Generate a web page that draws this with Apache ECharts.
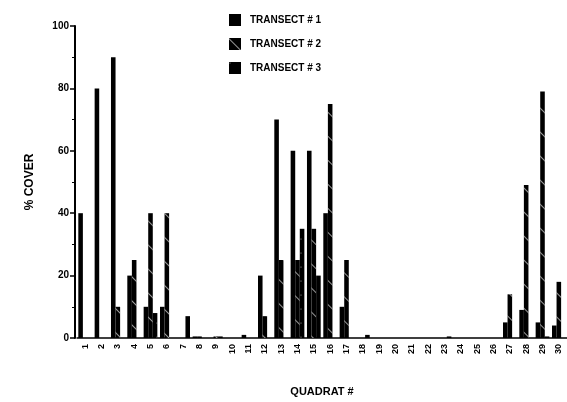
<!DOCTYPE html>
<html>
<head>
<meta charset="utf-8">
<script src="https://cdn.jsdelivr.net/npm/echarts@6/dist/echarts.min.js"></script>
<style>
  html, body { margin: 0; padding: 0; background: #fff; }
  #main { width: 567px; height: 402px; }
</style>
</head>
<body>
<div id="main"></div>
<script>
// quadrat numbers along the x axis
const quadrats = ['1','2','3','4','5','6','7','8','9','10','11','12','13','14','15',
  '16','17','18','19','20','21','22','23','24','25','26','27','28','29','30'];

// % cover per quadrat
const transect1 = [40, 80, 90, 20, 10, 10, 0, 0.5, 0, 0, 1, 20, 70, 60, 60,
  40, 10, 0, 0, 0, 0, 0, 0, 0, 0, 0, 5, 9, 5, 4];
const transect2 = [0, 0, 10, 25, 40, 40, 0, 0.5, 0.5, 0, 0, 7, 25, 25, 35,
  75, 25, 0, 0, 0, 0, 0, 0, 0, 0, 0, 14, 49, 79, 18];
const transect3 = [0, 0, 0, 0, 8, 0, 7, 0, 0.5, 0, 0, 0, 0, 35, 20,
  0, 0, 1, 0, 0, 0, 0, 0.5, 0, 0, 0, 0, 0, 0.5, 0];

const yTicks = [0, 20, 40, 60, 80, 100];

const chart = echarts.init(document.getElementById('main'), null, { renderer: 'canvas' });

const font = 'Liberation Sans, Arial, sans-serif';

// hatch patterns for transect 2 and 3 (scan shows them almost solid black)
const hatch = {
  symbol: 'rect',
  color: 'rgba(255,255,255,0.6)',
  dashArrayX: [1, 0],
  dashArrayY: [1, 16],
  rotation: Math.PI / 4
};
const cross = {
  symbol: 'circle',
  symbolSize: 0.5,
  color: 'rgba(255,255,255,0.8)',
  dashArrayX: [[2, 10]],
  dashArrayY: [2, 12]
};

chart.setOption({
  backgroundColor: '#fff',
  animation: false,
  legend: {
    orient: 'vertical',
    left: 224,
    top: 9,
    itemWidth: 12,
    itemHeight: 12,
    itemGap: 12,
    icon: 'rect',
    textStyle: { fontFamily: font, fontWeight: 'bold', fontSize: 10, color: '#000', padding: [0, 0, 0, 4] },
    data: ['TRANSECT # 1', 'TRANSECT # 2', 'TRANSECT # 3']
  },
  grid: { left: 77, right: 0, top: 26, bottom: 63 },
  xAxis: {
    type: 'category',
    data: quadrats,
    name: 'QUADRAT #',
    nameLocation: 'middle',
    nameGap: 48,
    nameTextStyle: { fontFamily: font, fontWeight: 'bold', fontSize: 11, color: '#000' },
    axisLine: { lineStyle: { color: '#000', width: 1.5 } },
    axisTick: { alignWithLabel: true, length: 4, lineStyle: { color: '#000', width: 1.2 } },
    axisLabel: {
      rotate: 90,
      interval: 0,
      margin: 6,
      fontFamily: font,
      fontWeight: 'bold',
      fontSize: 9,
      color: '#000'
    },
    splitLine: { show: false }
  },
  yAxis: {
    type: 'value',
    min: yTicks[0],
    max: yTicks[yTicks.length - 1],
    interval: 20,
    offset: 2,
    name: '% COVER',
    nameLocation: 'middle',
    nameGap: 39,
    nameRotate: 90,
    nameTextStyle: { fontFamily: font, fontWeight: 'bold', fontSize: 12, color: '#000' },
    axisLine: { show: true, lineStyle: { color: '#000', width: 2 } },
    axisTick: { show: true, length: 5, lineStyle: { color: '#000', width: 1.5 } },
    minorTick: { show: true, splitNumber: 2, length: 3, lineStyle: { color: '#000', width: 1 } },
    axisLabel: { fontFamily: font, fontWeight: 'bold', fontSize: 10, color: '#000', margin: 6 },
    splitLine: { show: false }
  },
  series: [
    {
      name: 'TRANSECT # 1', type: 'bar', data: transect1,
      barGap: '0%', barCategoryGap: '16%',
      itemStyle: { color: '#000' }
    },
    {
      name: 'TRANSECT # 2', type: 'bar', data: transect2,
      barGap: '0%', barCategoryGap: '16%',
      itemStyle: { color: '#000', decal: hatch }
    },
    {
      name: 'TRANSECT # 3', type: 'bar', data: transect3,
      barGap: '0%', barCategoryGap: '16%',
      itemStyle: { color: '#000', decal: cross }
    }
  ]
});
</script>
</body>
</html>
